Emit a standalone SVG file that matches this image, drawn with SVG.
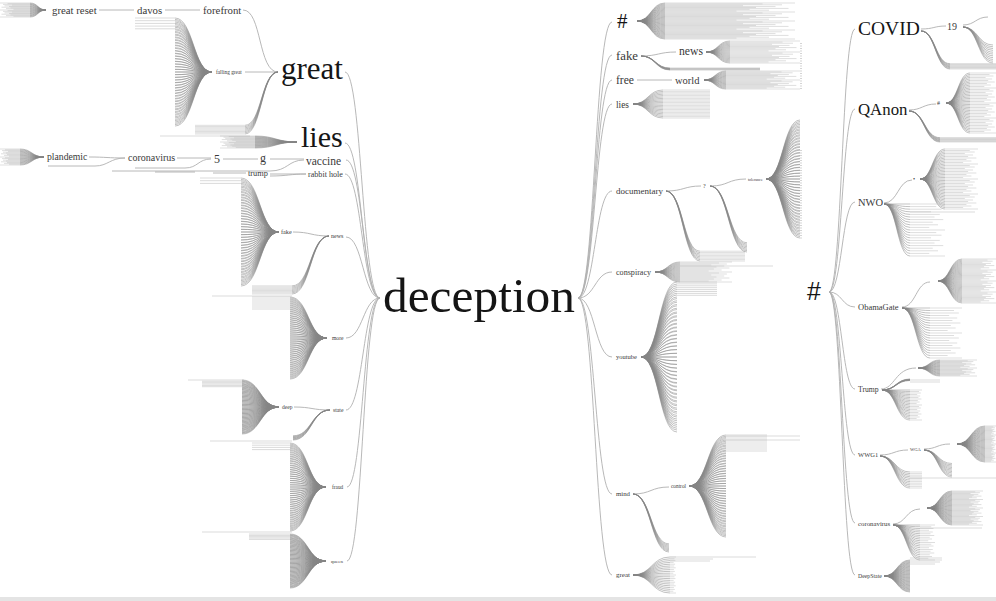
<svg xmlns="http://www.w3.org/2000/svg" width="996" height="601" viewBox="0 0 996 601">
<style>
text{font-family:"Liberation Serif","DejaVu Serif",serif;fill:#3a3a3a}
.big{fill:#151515}
.sans{font-family:"Liberation Sans","DejaVu Sans",sans-serif}
.c{fill:none;stroke:#b0b0b0;stroke-width:.9}
.l{fill:none;stroke:#b4b4b4;stroke-width:.5}
.f{fill:none;stroke:#858585;stroke-width:.5;vector-effect:non-scaling-stroke}
.ft{fill:none;stroke:#bdbdbd;stroke-width:.5;vector-effect:non-scaling-stroke}
.dash{fill:none;stroke:#aaa;stroke-width:1;stroke-dasharray:1 1.5}
</style>
<defs>
<path id="c41" class="f" d="M0 0C.5 0 .5-1 1-1M0 0C.5 0 .5-.95 1-.95M0 0C.5 0 .5-.9 1-.9M0 0C.5 0 .5-.85 1-.85M0 0C.5 0 .5-.8 1-.8M0 0C.5 0 .5-.75 1-.75M0 0C.5 0 .5-.7 1-.7M0 0C.5 0 .5-.65 1-.65M0 0C.5 0 .5-.6 1-.6M0 0C.5 0 .5-.55 1-.55M0 0C.5 0 .5-.5 1-.5M0 0C.5 0 .5-.45 1-.45M0 0C.5 0 .5-.4 1-.4M0 0C.5 0 .5-.35 1-.35M0 0C.5 0 .5-.3 1-.3M0 0C.5 0 .5-.25 1-.25M0 0C.5 0 .5-.2 1-.2M0 0C.5 0 .5-.15 1-.15M0 0C.5 0 .5-.1 1-.1M0 0C.5 0 .5-.05 1-.05M0 0H1M0 0C.5 0 .5 .05 1 .05M0 0C.5 0 .5 .1 1 .1M0 0C.5 0 .5 .15 1 .15M0 0C.5 0 .5 .2 1 .2M0 0C.5 0 .5 .25 1 .25M0 0C.5 0 .5 .3 1 .3M0 0C.5 0 .5 .35 1 .35M0 0C.5 0 .5 .4 1 .4M0 0C.5 0 .5 .45 1 .45M0 0C.5 0 .5 .5 1 .5M0 0C.5 0 .5 .55 1 .55M0 0C.5 0 .5 .6 1 .6M0 0C.5 0 .5 .65 1 .65M0 0C.5 0 .5 .7 1 .7M0 0C.5 0 .5 .75 1 .75M0 0C.5 0 .5 .8 1 .8M0 0C.5 0 .5 .85 1 .85M0 0C.5 0 .5 .9 1 .9M0 0C.5 0 .5 .95 1 .95M0 0C.5 0 .5 1 1 1"/>
<path id="t41" class="ft" d="M0-1H1M0-.95H.75M0-.9H.9M0-.85H.6M0-.8H.85M0-.75H.7M0-.7H.95M0-.65H.65M0-.6H.8M0-.55H.55M0-.5H1M0-.45H.75M0-.4H.9M0-.35H.6M0-.3H.85M0-.25H.7M0-.2H.95M0-.15H.65M0-.1H.8M0-.05H.55M0 0H1M0 .05H.75M0 .1H.9M0 .15H.6M0 .2H.85M0 .25H.7M0 .3H.95M0 .35H.65M0 .4H.8M0 .45H.55M0 .5H1M0 .55H.75M0 .6H.9M0 .65H.6M0 .7H.85M0 .75H.7M0 .8H.95M0 .85H.65M0 .9H.8M0 .95H.55M0 1H1"/>
<path id="c21" class="f" d="M0 0C.5 0 .5-1 1-1M0 0C.5 0 .5-.9 1-.9M0 0C.5 0 .5-.8 1-.8M0 0C.5 0 .5-.7 1-.7M0 0C.5 0 .5-.6 1-.6M0 0C.5 0 .5-.5 1-.5M0 0C.5 0 .5-.4 1-.4M0 0C.5 0 .5-.3 1-.3M0 0C.5 0 .5-.2 1-.2M0 0C.5 0 .5-.1 1-.1M0 0H1M0 0C.5 0 .5 .1 1 .1M0 0C.5 0 .5 .2 1 .2M0 0C.5 0 .5 .3 1 .3M0 0C.5 0 .5 .4 1 .4M0 0C.5 0 .5 .5 1 .5M0 0C.5 0 .5 .6 1 .6M0 0C.5 0 .5 .7 1 .7M0 0C.5 0 .5 .8 1 .8M0 0C.5 0 .5 .9 1 .9M0 0C.5 0 .5 1 1 1"/>
<path id="t21" class="ft" d="M0-1H1M0-.9H.75M0-.8H.9M0-.7H.6M0-.6H.85M0-.5H.7M0-.4H.95M0-.3H.65M0-.2H.8M0-.1H.55M0 0H1M0 .1H.75M0 .2H.9M0 .3H.6M0 .4H.85M0 .5H.7M0 .6H.95M0 .7H.65M0 .8H.8M0 .9H.55M0 1H1"/>
<path id="u21" class="ft" d="M0-1H1M0-.9H1M0-.8H1M0-.7H1M0-.6H1M0-.5H1M0-.4H1M0-.3H1M0-.2H1M0-.1H1M0 0H1M0 .1H1M0 .2H1M0 .3H1M0 .4H1M0 .5H1M0 .6H1M0 .7H1M0 .8H1M0 .9H1M0 1H1"/>
<path id="dn" class="f" d="M0 0C.5 0 .5 .86 1 .86M0 0C.5 0 .5 .88 1 .88M0 0C.5 0 .5 .9 1 .9M0 0C.5 0 .5 .92 1 .92M0 0C.5 0 .5 .94 1 .94M0 0C.5 0 .5 .96 1 .96M0 0C.5 0 .5 .98 1 .98M0 0C.5 0 .5 1 1 1"/>
<path id="dnt" class="ft" d="M0 .86H1M0 .88H1M0 .9H1M0 .92H1M0 .94H1M0 .96H1M0 .98H1M0 1H1"/>
<path id="dw" class="f" d="M0 0C.5 0 .5 .5 1 .5M0 0C.5 0 .5 .55 1 .55M0 0C.5 0 .5 .6 1 .6M0 0C.5 0 .5 .65 1 .65M0 0C.5 0 .5 .7 1 .7M0 0C.5 0 .5 .75 1 .75M0 0C.5 0 .5 .8 1 .8M0 0C.5 0 .5 .85 1 .85M0 0C.5 0 .5 .9 1 .9M0 0C.5 0 .5 .95 1 .95M0 0C.5 0 .5 1 1 1"/>
<path id="dwt" class="ft" d="M0 .5H1M0 .55H1M0 .6H1M0 .65H1M0 .7H1M0 .75H1M0 .8H1M0 .85H1M0 .9H1M0 .95H1M0 1H1"/>
<path id="hf" class="f" d="M0 0H1M0 0C.5 0 .5 .05 1 .05M0 0C.5 0 .5 .1 1 .1M0 0C.5 0 .5 .15 1 .15M0 0C.5 0 .5 .2 1 .2M0 0C.5 0 .5 .25 1 .25M0 0C.5 0 .5 .3 1 .3M0 0C.5 0 .5 .35 1 .35M0 0C.5 0 .5 .4 1 .4M0 0C.5 0 .5 .45 1 .45M0 0C.5 0 .5 .5 1 .5M0 0C.5 0 .5 .55 1 .55M0 0C.5 0 .5 .6 1 .6M0 0C.5 0 .5 .65 1 .65M0 0C.5 0 .5 .7 1 .7M0 0C.5 0 .5 .75 1 .75M0 0C.5 0 .5 .8 1 .8M0 0C.5 0 .5 .85 1 .85M0 0C.5 0 .5 .9 1 .9M0 0C.5 0 .5 .95 1 .95M0 0C.5 0 .5 1 1 1"/>
<path id="ht" class="ft" d="M0 0H1M0 .05H.75M0 .1H.9M0 .15H.6M0 .2H.85M0 .25H.7M0 .3H.95M0 .35H.65M0 .4H.8M0 .45H.55M0 .5H1M0 .55H.75M0 .6H.9M0 .65H.6M0 .7H.85M0 .75H.7M0 .8H.95M0 .85H.65M0 .9H.8M0 .95H.55M0 1H1"/>
</defs>
<rect width="996" height="601" fill="#fff"/>
<rect x="0" y="597" width="996" height="4" fill="#e4e4e4"/>

<g id="connectors">
<path class="c" d="M345 72C362 72 362 298 380 298M345 143C362 143 362 298 380 298M346 160C363 160 363 298 380 298M345 174C362 174 362 298 380 298M346 237C363 237 363 298 380 298M346 338C363 338 363 298 380 298M346 410C363 410 363 298 380 298M347 487C363 487 363 298 380 298M347 561C363 561 363 298 380 298"/>
<path class="c" d="M578 298C595 298 595 22 612 22M578 298C595 298 595 55 612 55M578 298C595 298 595 80 612 80M578 298C595 298 595 104 612 104M578 298C595 298 595 191 612 191M578 298C595 298 595 272 612 272M578 298C595 298 595 357 612 357M578 298C595 298 595 494 612 494M578 298C595 298 595 575 612 575"/>
<path class="c" d="M829 292C842 292 842 29 855 29M829 292C842 292 842 109 855 109M829 292C842 292 842 202 855 202M829 292C842 292 842 307 855 307M829 292C842 292 842 389 855 389M829 292C842 292 842 455 855 455M829 292C842 292 842 523 855 523M829 292C842 292 842 575 855 575"/>
<path class="c" d="M99 10H134M165 10H200M243 10C262 10 258 72 278 72M245 72H278M89 157C107 157 107 158 125 158M48 166H95C108 166 110 158 125 158M177 158H211M135 168H185C198 168 198 159 211 159M223 159H258M270 159H304M112 171H270C288 171 288 160 304 160M155 172H195M213 173H246M270 174H306M270 176C288 176 290 174 306 174M293 232C311 232 311 236 329 236M294 407C312 407 312 410 330 410"/>
<path class="c" d="M641 56C658 56 659 52 676 52M637 80H672M666 191C684 191 684 186 701 186M711 186C728 186 728 179 746 179M633 494C651 494 651 487 669 487"/>
<path class="c" d="M921 29C934 29 934 26 946 26M963 25C975 25 976 17 988 17M909 110C922 110 923 104 936 104M884 203C898 203 898 180 912 180M902 307C916 307 916 282 930 282M881 389C895 389 895 368 916 368M880 455C894 455 894 450 908 450M924 449C937 449 937 444 950 444M893 524C906 524 906 509 920 509"/>

<use href="#c21" transform="translate(46 10) scale(-16 7)"/>
<use href="#t21" transform="translate(30 10) scale(-30 7)"/>
<use href="#c41" transform="translate(212 72) scale(-37 54)"/>
<use href="#c41" transform="translate(212 72) scale(-37 52.6)"/>
<use href="#dn" transform="translate(278 72) scale(-33 62)"/>
<use href="#dnt" transform="translate(245 72) scale(-50 62)"/>
<use href="#c21" transform="translate(297 142) scale(-42 6)"/>
<use href="#t21" transform="translate(255 142) scale(-35 6)"/>
<use href="#c21" transform="translate(44 157) scale(-24 8)"/>
<use href="#t21" transform="translate(20 157) scale(-20 8)"/>
<use href="#c41" transform="translate(279 232) scale(-38 54)"/>
<use href="#c41" transform="translate(279 232) scale(-38 52.6)"/>
<use href="#dn" transform="translate(329 236) scale(-37 58)"/>
<use href="#dnt" transform="translate(292 236) scale(-40 58)"/>
<use href="#c41" transform="translate(327 338) scale(-37 41)"/>
<use href="#c41" transform="translate(327 338) scale(-37 40)"/>
<use href="#c41" transform="translate(279 407) scale(-37 27)"/>
<use href="#c41" transform="translate(279 407) scale(-37 26.3)"/>
<use href="#dn" transform="translate(330 410) scale(-37 30)"/>
<use href="#c41" transform="translate(326 487) scale(-36 44)"/>
<use href="#c41" transform="translate(326 487) scale(-36 42.9)"/>
<use href="#c41" transform="translate(326 561) scale(-36 27)"/>
<use href="#c41" transform="translate(326 561) scale(-36 26.3)"/>
<path class="l" d="M135 18H175M135 20.7H175M135 23.4H175M135 26.1H175M135 28.8H175M160 136H250M200 178H241M200 180.7H241M200 183.4H241M212 296H292M252 297H290M252 299H290M252 301H290M252 303H290M252 305H290M252 307H290M252 309H290M188 380H244M202 381.3H242M202 382.7H242M202 384H242M202 385.4H242M202 386.7H242M210 441H292M252 443H290M252 445.2H290M252 447.4H290M252 449.6H290M202 532H292M249 534H290M249 535.4H290M249 536.7H290M249 538H290M249 539.4H290"/>

<use href="#c41" transform="translate(637 21) scale(28 18)"/>
<use href="#t41" transform="translate(665 21) scale(130 18)"/>
<use href="#c21" transform="translate(706 52) scale(24 11)"/>
<use href="#t21" transform="translate(730 52) scale(70 11)"/>
<use href="#dn" transform="translate(641 56) scale(29 14)"/>
<use href="#dnt" transform="translate(670 56) scale(90 14)"/>
<use href="#c21" transform="translate(704 80) scale(22 9)"/>
<use href="#t21" transform="translate(726 80) scale(74 9)"/>
<use href="#c21" transform="translate(633 104) scale(30 14)"/>
<use href="#u21" transform="translate(663 104) scale(47 14)"/>
<use href="#c41" transform="translate(766 179) scale(34 59)"/>
<use href="#c41" transform="translate(766 179) scale(34 57.5)"/>
<use href="#dn" transform="translate(666 191) scale(34 70)"/>
<use href="#dnt" transform="translate(700 191) scale(45 70)"/>
<use href="#dn" transform="translate(710 186) scale(37 66)"/>
<use href="#c21" transform="translate(655 272) scale(25 10)"/>
<use href="#t21" transform="translate(680 272) scale(52 10)"/>
<use href="#c41" transform="translate(641 357) scale(36 75)"/>
<use href="#c41" transform="translate(641 357) scale(36 73)"/>
<use href="#c41" transform="translate(689 486) scale(37 51)"/>
<use href="#c41" transform="translate(689 486) scale(37 49.7)"/>
<use href="#dn" transform="translate(633 494) scale(36 58)"/>
<use href="#c21" transform="translate(633 575) scale(37 18)"/>
<use href="#t21" transform="translate(670 575) scale(6 18)"/>
<path class="l" d="M680 266H773M677 282H717M677 283.9H717M677 285.8H717M677 287.7H717M677 289.6H717M677 291.5H717M677 293.4H717M677 295.3H717M726 435H767M726 437H767M726 439H767M726 441H767M726 443H767M726 445H767M726 447H767M726 449H767M726 451H767M726 436H800M726 440H800M670 557H756M670 559H713M670 561H710"/>
<path class="dash" d="M801 43V90M801 150V240"/>

<use href="#dw" transform="translate(963 27) scale(30 36)"/>
<use href="#dn" transform="translate(921 31) scale(29 38)"/>
<use href="#dnt" transform="translate(950 31) scale(46 38)"/>
<use href="#c41" transform="translate(946 103) scale(24 30)"/>
<use href="#t41" transform="translate(970 103) scale(26 30)"/>
<use href="#dn" transform="translate(909 111) scale(31 31)"/>
<use href="#dnt" transform="translate(940 111) scale(56 31)"/>
<use href="#c41" transform="translate(920 179) scale(25 30)"/>
<use href="#t41" transform="translate(945 179) scale(33 30)"/>
<use href="#hf" transform="translate(884 204) scale(26 52)"/>
<use href="#ht" transform="translate(910 204) scale(35 52)"/>
<use href="#c41" transform="translate(938 281) scale(24 22)"/>
<use href="#t41" transform="translate(962 281) scale(34 22)"/>
<use href="#hf" transform="translate(902 308) scale(28 50)"/>
<use href="#ht" transform="translate(930 308) scale(32 50)"/>
<use href="#c21" transform="translate(918 368) scale(22 8)"/>
<use href="#t21" transform="translate(940 368) scale(37 8)"/>
<use href="#hf" transform="translate(882 390) scale(28 30)"/>
<use href="#ht" transform="translate(910 390) scale(12 30)"/>
<use href="#dn" transform="translate(882 390) scale(28 -11)"/>
<use href="#c41" transform="translate(957 444) scale(28 18)"/>
<use href="#t41" transform="translate(985 444) scale(11 18)"/>
<use href="#dw" transform="translate(924 450) scale(28 27)"/>
<use href="#dw" transform="translate(880 456) scale(30 32)"/>
<use href="#dwt" transform="translate(910 456) scale(12 32)"/>
<use href="#c41" transform="translate(927 508) scale(25 17)"/>
<use href="#t41" transform="translate(952 508) scale(31 17)"/>
<use href="#hf" transform="translate(893 525) scale(27 35)"/>
<use href="#ht" transform="translate(920 525) scale(15 35)"/>
<use href="#c41" transform="translate(884 576) scale(26 16)"/>
<path class="l" d="M910 212H975M910 380H940M910 382H940M910 478H996M920 528H982M910 558H942M910 560H942M910 562H940M910 564H935"/>
</g>

<g id="n-deception"><text class="big" x="383" y="312" font-size="49.4">deception</text></g>
<g id="n-great-l"><text class="big" x="281" y="79" font-size="31">great</text></g>
<g id="n-lies-l"><text class="big" x="301" y="147" font-size="30">lies</text></g>
<g id="n-great-reset"><text x="52" y="14" font-size="10.8">great reset</text></g>
<g id="n-davos"><text x="137" y="14" font-size="10.8">davos</text></g>
<g id="n-forefront"><text x="203" y="14" font-size="10.8">forefront</text></g>
<g id="n-falling-great"><text x="216" y="74" font-size="5.3">falling great</text></g>
<g id="n-plandemic"><text x="47" y="160" font-size="9.7">plandemic</text></g>
<g id="n-coronavirus-l"><text x="128" y="161" font-size="10">coronavirus</text></g>
<g id="n-5"><text x="214" y="163" font-size="12">5</text></g>
<g id="n-g"><text x="260" y="162" font-size="12">g</text></g>
<g id="n-vaccine"><text x="306" y="164.5" font-size="11.5">vaccine</text></g>
<g id="n-trump-l"><text x="248" y="176" font-size="8.4">trump</text></g>
<g id="n-rabbit-hole"><text x="308" y="177" font-size="8.1">rabbit hole</text></g>
<g id="n-fake-l"><text x="281" y="234" font-size="6.2">fake</text></g>
<g id="n-news-l"><text x="331" y="238" font-size="6">news</text></g>
<g id="n-more"><text x="332" y="340" font-size="5.6">more</text></g>
<g id="n-deep"><text x="282" y="409" font-size="5.5">deep</text></g>
<g id="n-state"><text x="333" y="412" font-size="5.7">state</text></g>
<g id="n-fraud"><text x="332" y="489" font-size="5.3">fraud</text></g>
<g id="n-queen"><text x="331" y="563" font-size="5">queen</text></g>

<g id="n-hash-m"><text class="big" x="617" y="28" font-size="21">#</text></g>
<g id="n-fake-m"><text x="616" y="60" font-size="12.8">fake</text></g>
<g id="n-news-m"><text x="679" y="55" font-size="11.7">news</text></g>
<g id="n-free"><text x="616" y="84" font-size="11.6">free</text></g>
<g id="n-world"><text x="675" y="84" font-size="10.5">world</text></g>
<g id="n-lies-m"><text x="616" y="108" font-size="9.4">lies</text></g>
<g id="n-documentary"><text x="616" y="194" font-size="9">documentary</text></g>
<g id="n-q"><text x="703" y="188" font-size="6">?</text></g>
<g id="n-tolerance"><text x="748" y="181" font-size="4">tolerance</text></g>
<g id="n-conspiracy"><text x="616" y="275" font-size="8.1">conspiracy</text></g>
<g id="n-youtube"><text x="616" y="359" font-size="6.5">youtube</text></g>
<g id="n-mind"><text x="616" y="496" font-size="6.8">mind</text></g>
<g id="n-control"><text x="671" y="488" font-size="5.3">control</text></g>
<g id="n-great-m"><text x="616" y="577" font-size="7">great</text></g>

<g id="n-hash-r"><text class="big sans" x="807" y="300" font-size="25">#</text></g>
<g id="n-covid"><text class="big" x="858" y="35" font-size="19.5">COVID</text></g>
<g id="n-19"><text x="947" y="30" font-size="10">19</text></g>
<g id="n-qanon"><text class="big" x="858" y="115" font-size="16.8">QAnon</text></g>
<g id="n-hash-q"><text x="937" y="105" font-size="6">#</text></g>
<g id="n-nwo"><text x="858" y="206" font-size="10.5">NWO</text></g>
<g id="n-dot-nwo"><text x="913" y="181" font-size="6">•</text></g>
<g id="n-obamagate"><text x="858" y="310" font-size="8.5">ObamaGate</text></g>
<g id="n-trump-r"><text x="858" y="392" font-size="7.7">Trump</text></g>
<g id="n-wwg1"><text x="858" y="457" font-size="6.5">WWG1</text></g>
<g id="n-wga"><text x="910" y="451" font-size="4.5">WGA</text></g>
<g id="n-coronavirus-r"><text x="858" y="526" font-size="6.8">coronavirus</text></g>
<g id="n-deepstate"><text x="858" y="578" font-size="5.8">DeepState</text></g>
</svg>
